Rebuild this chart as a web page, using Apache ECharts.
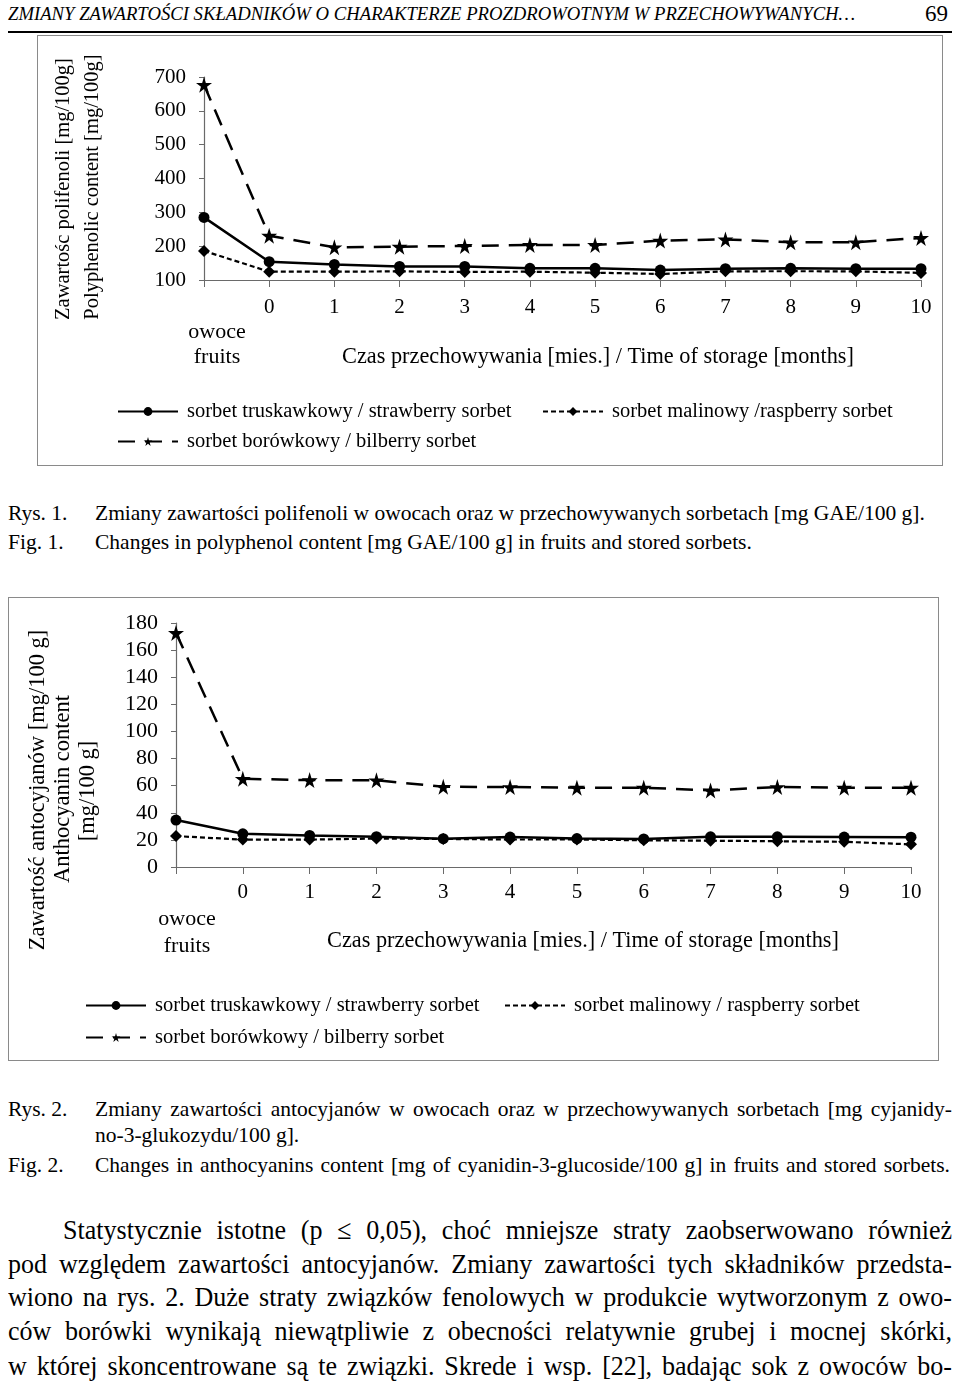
<!DOCTYPE html>
<html>
<head>
<meta charset="utf-8">
<script src="https://cdn.jsdelivr.net/npm/echarts@6/dist/echarts.min.js"></script>
<style>
  html, body { margin:0; padding:0; background:#fff; }
  body { width:960px; height:1384px; position:relative; overflow:hidden; font-family:'Liberation Serif','Times New Roman',serif; color:#000; }
  .abs { position:absolute; white-space:nowrap; }
  .jl { position:absolute; white-space:nowrap; text-align:justify; text-align-last:justify; }
  .cap { font-size:21.5px; line-height:26px; }
  .body { font-size:28px; line-height:34px; transform:scaleX(0.93); transform-origin:0 0; }
  #c1 { position:absolute; left:37px; top:35px; width:904px; height:429px; border:1px solid #8a8a8a; }
  #c2 { position:absolute; left:8px; top:597px; width:929px; height:462px; border:1px solid #8a8a8a; }
</style>
</head>
<body>
<div class="abs" style="left:8px; top:2px; font-size:18.7px; font-style:italic; line-height:24px;">ZMIANY ZAWARTOŚCI SKŁADNIKÓW O CHARAKTERZE PROZDROWOTNYM W PRZECHOWYWANYCH…</div>
<div class="abs" style="left:925px; top:0px; font-size:23px; line-height:28px;">69</div>
<div class="abs" style="left:8px; top:31px; width:944px; height:2px; background:#000;"></div>

<div id="c1"></div>

<div class="abs cap" style="left:8px; top:500px;">Rys. 1.</div>
<div class="abs cap" style="left:95px; top:500px;">Zmiany zawartości polifenoli w owocach oraz w przechowywanych sorbetach [mg GAE/100 g].</div>
<div class="abs cap" style="left:8px; top:529px;">Fig. 1.</div>
<div class="abs cap" style="left:95px; top:529px;">Changes in polyphenol content [mg GAE/100 g] in fruits and stored sorbets.</div>

<div id="c2"></div>

<div class="abs cap" style="left:8px; top:1096px;">Rys. 2.</div>
<div class="jl cap" style="left:95px; top:1096px; width:857px;">Zmiany zawartości antocyjanów w owocach oraz w przechowywanych sorbetach [mg cyjanidy-</div>
<div class="abs cap" style="left:95px; top:1122px;">no-3-glukozydu/100 g].</div>
<div class="abs cap" style="left:8px; top:1152px;">Fig. 2.</div>
<div class="jl cap" style="left:95px; top:1152px; width:855px;">Changes in anthocyanins content [mg of cyanidin-3-glucoside/100 g] in fruits and stored sorbets.</div>

<div class="jl body" style="left:63px; top:1213px; width:956px;">Statystycznie istotne (p ≤ 0,05), choć mniejsze straty zaobserwowano również</div>
<div class="jl body" style="left:8px; top:1247px; width:1015px;">pod względem zawartości antocyjanów. Zmiany zawartości tych składników przedsta-</div>
<div class="jl body" style="left:8px; top:1280px; width:1015px;">wiono na rys. 2. Duże straty związków fenolowych w produkcie wytworzonym z owo-</div>
<div class="jl body" style="left:8px; top:1314px; width:1015px;">ców borówki wynikają niewątpliwie z obecności relatywnie grubej i mocnej skórki,</div>
<div class="jl body" style="left:8px; top:1349px; width:1015px;">w której skoncentrowane są te związki. Skrede i wsp. [22], badając sok z owoców bo-</div>

<script>
// ---------- data ----------
var catLabels = ['owoce\nfruits', '0', '1', '2', '3', '4', '5', '6', '7', '8', '9', '10'];

var polyTicks = [100, 200, 300, 400, 500, 600, 700];
var polyStrawberry = [285, 154, 146, 140, 140, 134.5, 134.5, 129.5, 133.5, 134.5, 133.5, 133.5];
var polyRaspberry  = [186, 124.6, 124.6, 125.5, 123.7, 124.6, 121.6, 117.8, 125.5, 126, 125.5, 121];
var polyBilberry   = [677, 231, 196.6, 198.6, 200.7, 203.6, 203.6, 216.4, 220, 211.4, 211.6, 224.4];

var anthoTicks = [0, 20, 40, 60, 80, 100, 120, 140, 160, 180];
var anthoStrawberry = [34.6, 24.5, 23.3, 22.4, 20.9, 22.1, 21, 20.7, 22.3, 22.3, 22.1, 22];
var anthoRaspberry  = [22.8, 20.2, 20.2, 21, 20.7, 20.3, 20.3, 19.7, 19.4, 19, 18.6, 16.7];
var anthoBilberry   = [172.7, 65.1, 64.1, 64, 59.2, 59, 58.5, 58.5, 56.5, 59, 58.5, 58.5];

var names1 = ['sorbet truskawkowy / strawberry sorbet', 'sorbet malinowy /raspberry sorbet', 'sorbet borówkowy / bilberry sorbet'];
var names2 = ['sorbet truskawkowy / strawberry sorbet', 'sorbet malinowy / raspberry sorbet', 'sorbet borówkowy / bilberry sorbet'];
var xName = 'Czas przechowywania [mies.] / Time of storage [months]';
var yName1 = ['Zawartośc polifenoli [mg/100g]', 'Polyphenolic content [mg/100g]'];
var yName2 = ['Zawartość antocyjanów [mg/100 g]', 'Anthocyanin content', '[mg/100 g]'];

// ---------- styles ----------
var FONT = "'Liberation Serif','Times New Roman',serif";
var STAR = 'path://M50,0 L61,35 L98,35 L68,57 L79,91 L50,70 L21,91 L32,57 L2,35 L39,35 Z';

function makeSeries(names, s, r, b) {
  return [
    { name: names[0], type: 'line', data: s, symbol: 'circle', symbolSize: 11,
      lineStyle: { color: '#000', width: 2.5, type: 'solid' }, itemStyle: { color: '#000' }, z: 3 },
    { name: names[1], type: 'line', data: r, symbol: 'diamond', symbolSize: 12,
      lineStyle: { color: '#000', width: 2.2, type: [5, 3] }, itemStyle: { color: '#000' }, z: 2 },
    { name: names[2], type: 'line', data: b, symbol: STAR, symbolSize: 16,
      lineStyle: { color: '#000', width: 2.5, type: [17, 10] }, itemStyle: { color: '#000' }, z: 4 }
  ];
}

function makeLegend(name, left, top) {
  return { data: [name], left: left, top: top, itemWidth: 60, itemHeight: 11,
    selectedMode: false, padding: 0,
    textStyle: { fontFamily: FONT, fontSize: 20.5, color: '#000', padding: [0, 0, 0, 4] } };
}

function xAxisCfg(fs, lh, margin, padLeft) {
  return {
    type: 'category', data: catLabels, boundaryGap: false,
    axisLine: { lineStyle: { color: '#6a6a6a', width: 1.2 } },
    axisTick: { show: true, length: 7, alignWithLabel: true, lineStyle: { color: '#6a6a6a' } },
    axisLabel: {
      interval: 0, margin: margin, color: '#000', fontFamily: FONT, fontSize: fs,
      formatter: function (v, i) {
        if (i === 0) {
          var parts = v.split('\n');
          return '{f| }\n{f|' + parts[0] + '}\n{f|' + parts[1] + '}';
        }
        return '{n|' + v + '}';
      },
      rich: {
        n: { fontFamily: FONT, fontSize: fs, lineHeight: lh, color: '#000' },
        f: { fontFamily: FONT, fontSize: fs + 1, lineHeight: lh, color: '#000', padding: [0, 0, 0, padLeft] }
      }
    },
    splitLine: { show: false }
  };
}

function yAxisCfg(ticks, fs) {
  return {
    type: 'value', min: ticks[0], max: ticks[ticks.length - 1], interval: ticks[1] - ticks[0],
    axisLine: { show: true, lineStyle: { color: '#6a6a6a', width: 1.2 } },
    axisTick: { show: true, length: 5, lineStyle: { color: '#6a6a6a' } },
    axisLabel: { color: '#000', fontFamily: FONT, fontSize: fs, margin: 18 },
    splitLine: { show: false }
  };
}

function vText(text, x, y, fs) {
  return { type: 'text', x: x, y: y, rotation: Math.PI / 2, silent: true,
    style: { text: text, x: 0, y: 0, textAlign: 'center', textVerticalAlign: 'middle',
      font: fs + 'px ' + FONT, fill: '#000' } };
}
function hText(text, x, y, fs) {
  return { type: 'text', x: x, y: y, silent: true,
    style: { text: text, x: 0, y: 0, textAlign: 'center', textVerticalAlign: 'middle',
      font: fs + 'px ' + FONT, fill: '#000' } };
}

// ---------- chart 1 ----------
var c1 = echarts.init(document.getElementById('c1'), null, { renderer: 'canvas' });
c1.setOption({
  animation: false,
  grid: { left: 166, top: 41, width: 717, height: 203, containLabel: false },
  xAxis: xAxisCfg(21, 25, 15, 26),
  yAxis: yAxisCfg(polyTicks, 21),
  legend: [
    makeLegend(names1[0], 79, 365),
    makeLegend(names1[1], 504, 365),
    makeLegend(names1[2], 79, 395)
  ],
  graphic: [
    vText(yName1[0], 26, 153, 20.5),
    vText(yName1[1], 55, 151, 20.5),
    hText(xName, 560, 321, 22.3)
  ],
  series: makeSeries(names1, polyStrawberry, polyRaspberry, polyBilberry)
});

// ---------- chart 2 ----------
var c2 = echarts.init(document.getElementById('c2'), null, { renderer: 'canvas' });
c2.setOption({
  animation: false,
  grid: { left: 167, top: 25, width: 735, height: 244, containLabel: false },
  xAxis: xAxisCfg(21, 27, 12, 22),
  yAxis: yAxisCfg(anthoTicks, 22),
  legend: [
    makeLegend(names2[0], 76, 397),
    makeLegend(names2[1], 495, 397),
    makeLegend(names2[2], 76, 429)
  ],
  graphic: [
    vText(yName2[0], 29, 192, 22.5),
    vText(yName2[1], 54, 191, 22.5),
    vText(yName2[2], 79, 193, 22.5),
    hText(xName, 574, 343, 22.3)
  ],
  series: makeSeries(names2, anthoStrawberry, anthoRaspberry, anthoBilberry)
});
</script>
</body>
</html>
